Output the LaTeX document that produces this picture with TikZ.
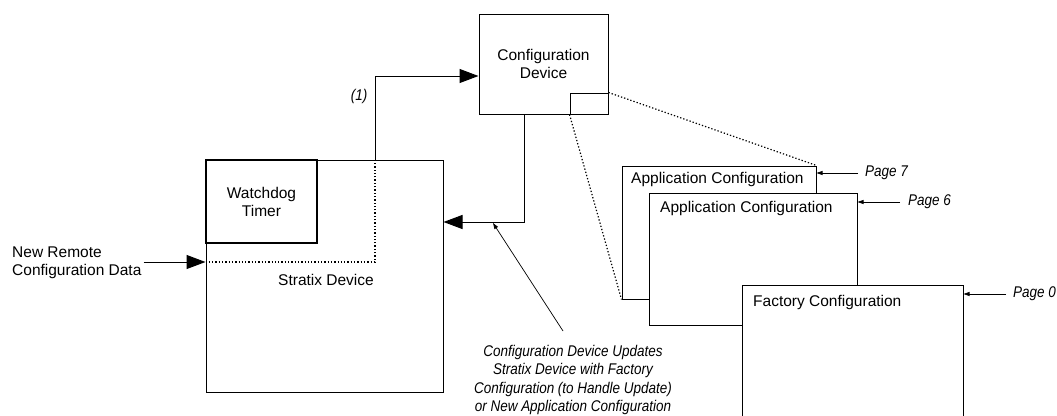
\documentclass[tikz,border=0pt]{standalone}
\usepackage{fontspec}
\setmainfont{Liberation Sans}
\newfontfamily\narrowit[FakeStretch=0.87]{Liberation Sans}
\usetikzlibrary{arrows.meta, positioning, calc}
\tikzset{
  devbox/.style={draw, line width=1pt, fill=white, align=center, inner sep=0pt,
                 font=\fontsize{15.5}{18}\selectfont},
  wdbox/.style={devbox, line width=1.25pt},
  pagebox/.style={draw, line width=1pt, fill=white, inner sep=0pt},
  boxtext/.style={font=\fontsize{15.5}{18}\selectfont, align=left, inner sep=0pt},
  notetext/.style={font=\narrowit\itshape\fontsize{15.5}{18.5}\selectfont,
                   align=center, inner sep=0pt},
  bigarr/.style={-{Triangle[length=19pt,width=14pt]}, line width=1pt},
  smallarr/.style={-{Triangle[length=6pt,width=4pt]}, line width=0.7pt},
  dotline/.style={line width=1.2pt, dash pattern=on 1.3pt off 2pt},
}
\begin{document}
\begin{tikzpicture}[x=1pt, y=-1pt]
    \useasboundingbox (0,0) rectangle (1057,415);

    % devices
    \node[devbox, minimum width=237pt, minimum height=232pt] (stratix) at (324.5,276) {};
    \node[boxtext] (stratixlbl) at (326,280) {Stratix Device};
    \node[wdbox, minimum width=111pt, minimum height=83pt] (wd) at (261.5,201.5) {Watchdog\\Timer};
    \node[devbox, minimum width=129pt, minimum height=100pt] (cfg) at (543.5,64) {Configuration\\Device};
    \node[devbox, minimum width=38pt, minimum height=21pt] (mem) at (589,103.5) {};

    % pages
    \node[pagebox, minimum width=194pt, minimum height=133pt] (p7) at (719,232.5) {};
    \node[boxtext, anchor=west] (t7) at (631,179) {Application Configuration};
    \node[pagebox, minimum width=208pt, minimum height=132pt] (p6) at (753,259) {};
    \node[boxtext, anchor=west] (t6) at (660,208) {Application Configuration};
    \node[pagebox, minimum width=221pt, minimum height=234pt] (p0) at (852.5,402) {};
    \node[boxtext, anchor=west] (t0) at (753,302) {Factory Configuration};

    \node[notetext, anchor=west] (l7) at (865,173) {Page 7};
    \node[notetext, anchor=west] (l6) at (908,202) {Page 6};
    \node[notetext, anchor=west] (l0) at (1013,294) {Page 0};
    \draw[smallarr] ([xshift=-7pt]l7.west) -- (l7.west -| p7.east);
    \draw[smallarr] ([xshift=-8pt]l6.west) -- (l6.west -| p6.east);
    \draw[smallarr] ([xshift=-7pt]l0.west) -- (l0.west -| p0.east);

    \draw[dotline] (mem.north east) -- (p7.north east);
    \draw[dotline] (mem.south west) -- (p7.south west);

    % data paths
    \node[boxtext, anchor=west] (nrc) at (12,263) {New Remote\\Configuration Data};
    \coordinate (turn) at (375,262);
    \coordinate (top) at (375,76);
    \coordinate (back) at (524,222);
    \draw[bigarr] ([xshift=2pt]nrc.east |- turn) -- (stratix.west |- turn);
    \draw[dotline] (stratix.west |- turn) -- (turn) -- (turn |- stratix.north);
    \draw[bigarr] (turn |- stratix.north) -- (top) -- (top -| cfg.west);
    \draw[bigarr] (back |- cfg.south) -- (back) -- (back -| stratix.east);
    \node[notetext] (one) at (359,96) {(1)};

    \node[notetext, anchor=north] (note) at (573,345) {Configuration Device Updates\\Stratix Device with Factory\\Configuration (to Handle Update)\\or New Application Configuration};
    \coordinate (tail) at (563,331);
    \coordinate (tip) at (493,223);
    \draw[smallarr] (tail) -- (tip);
\end{tikzpicture}
\end{document}
